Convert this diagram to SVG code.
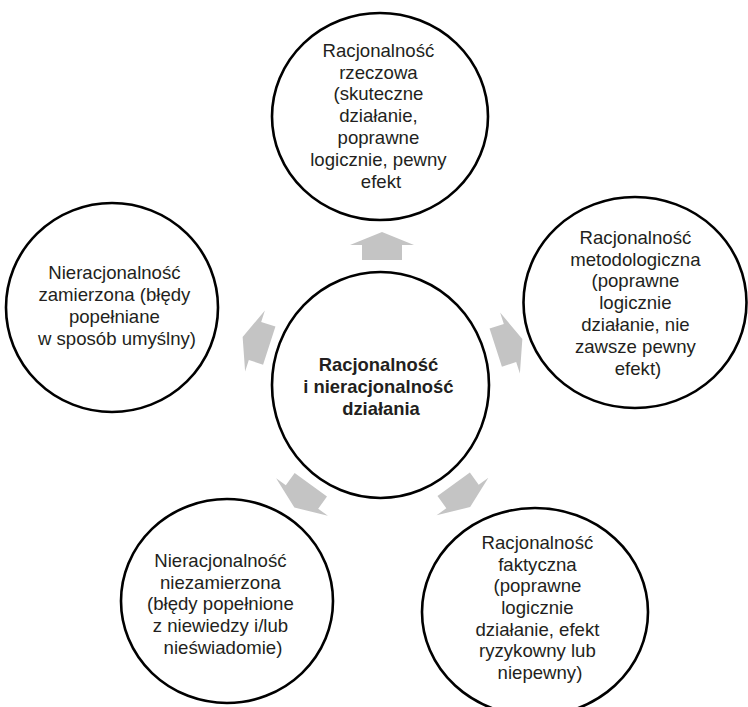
<svg xmlns="http://www.w3.org/2000/svg" xmlns:xlink="http://www.w3.org/1999/xlink" width="748" height="707" viewBox="0 0 748 707">
  <style>
    .node { fill: #ffffff; stroke: #000000; stroke-width: 2.6; }
    .lbl { font-family: "Liberation Sans", Arial, sans-serif; font-size: 18.6px; fill: #231f20; text-anchor: middle; }
    .hub { font-family: "Liberation Sans", Arial, sans-serif; font-size: 18.4px; font-weight: bold; fill: #231f20; text-anchor: middle; }
    .arrow { fill: #c4c4c4; }
  </style>
  <defs>
    <!-- block arrow pointing up, origin at the middle of the head base -->
    <polygon id="blockArrow" points="0,-13 32,0 20,0 20,15 -20,15 -20,0 -32,0"/>
  </defs>

  <!-- connectors: five block arrows radiating from the hub -->
  <g id="connectors" class="arrow">
    <use xlink:href="#blockArrow" href="#blockArrow" transform="translate(382,245)"/>
    <use xlink:href="#blockArrow" href="#blockArrow" transform="translate(510,343) rotate(72)"/>
    <use xlink:href="#blockArrow" href="#blockArrow" transform="translate(462.5,496.5) rotate(144)"/>
    <use xlink:href="#blockArrow" href="#blockArrow" transform="translate(302,497) rotate(216)"/>
    <use xlink:href="#blockArrow" href="#blockArrow" transform="translate(255,341) rotate(288)"/>
  </g>

  <g id="hub">
    <ellipse class="node" cx="380.5" cy="385" rx="108.5" ry="113"/>
    <text class="hub">
      <tspan x="381" y="371">Racjonalność</tspan>
      <tspan x="381" y="393">i nieracjonalność</tspan>
      <tspan x="381" y="415">działania</tspan>
    </text>
  </g>

  <g id="rzeczowa">
    <ellipse class="node" cx="380" cy="116.5" rx="108" ry="103.5"/>
    <text class="lbl">
      <tspan x="381" y="57">Racjonalność</tspan>
      <tspan x="381" y="79">rzeczowa</tspan>
      <tspan x="381" y="100">(skuteczne</tspan>
      <tspan x="381" y="122">działanie,</tspan>
      <tspan x="381" y="144">poprawne</tspan>
      <tspan x="381" y="166">logicznie, pewny</tspan>
      <tspan x="381" y="188">efekt</tspan>
    </text>
  </g>

  <g id="metodologiczna">
    <ellipse class="node" cx="635" cy="302.5" rx="111.5" ry="105.5"/>
    <text class="lbl">
      <tspan x="638" y="244">Racjonalność</tspan>
      <tspan x="638" y="266">metodologiczna</tspan>
      <tspan x="638" y="287">(poprawne</tspan>
      <tspan x="638" y="309">logicznie</tspan>
      <tspan x="638" y="331">działanie, nie</tspan>
      <tspan x="638" y="353">zawsze pewny</tspan>
      <tspan x="638" y="375">efekt)</tspan>
    </text>
  </g>

  <g id="faktyczna">
    <ellipse class="node" cx="535" cy="612" rx="113" ry="104"/>
    <text class="lbl">
      <tspan x="540" y="549">Racjonalność</tspan>
      <tspan x="540" y="571">faktyczna</tspan>
      <tspan x="540" y="592">(poprawne</tspan>
      <tspan x="540" y="614">logicznie</tspan>
      <tspan x="540" y="636">działanie, efekt</tspan>
      <tspan x="540" y="657">ryzykowny lub</tspan>
      <tspan x="540" y="679">niepewny)</tspan>
    </text>
  </g>

  <g id="niezamierzona">
    <ellipse class="node" cx="227" cy="601" rx="106" ry="102"/>
    <text class="lbl">
      <tspan x="223" y="567">Nieracjonalność</tspan>
      <tspan x="223" y="589">niezamierzona</tspan>
      <tspan x="223" y="610">(błędy popełnione</tspan>
      <tspan x="223" y="632">z niewiedzy i/lub</tspan>
      <tspan x="223" y="654">nieświadomie)</tspan>
    </text>
  </g>

  <g id="zamierzona">
    <ellipse class="node" cx="112" cy="307.5" rx="106" ry="104.5"/>
    <text class="lbl">
      <tspan x="117" y="279">Nieracjonalność</tspan>
      <tspan x="117" y="301">zamierzona (błędy</tspan>
      <tspan x="117" y="323">popełniane</tspan>
      <tspan x="117" y="345">w sposób umyślny)</tspan>
    </text>
  </g>
</svg>
